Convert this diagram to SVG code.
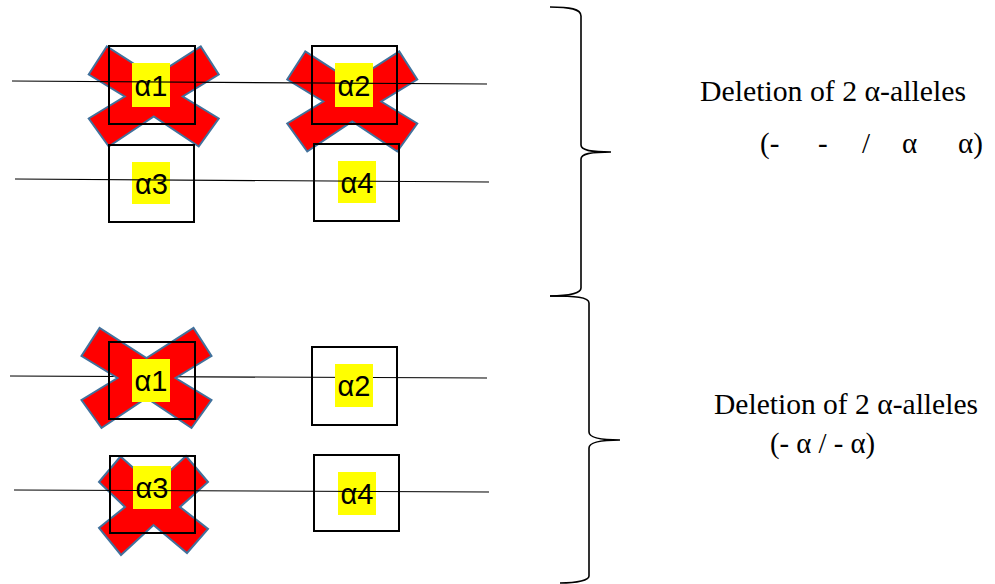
<svg xmlns="http://www.w3.org/2000/svg" width="995" height="584" viewBox="0 0 995 584">
<style>
.box{fill:none;stroke:#000;stroke-width:2}
.lbl{fill:#ffff00}
.lt{font-family:"Liberation Sans","DejaVu Sans",sans-serif;font-size:29px;fill:#000;text-anchor:middle}
.x{fill:#ff0000;stroke:#41719c;stroke-width:2;stroke-linejoin:miter}
.ln{stroke:#000;stroke-width:1.2;fill:none}
.br{stroke:#000;stroke-width:1.6;fill:none}
.t{font-family:"Liberation Serif","Times New Roman",serif;font-size:29px;fill:#000}
</style>
<defs>
<polygon id="cross" points="-47,-50 -65,-22 -29,0 -65,22 -45,50 0,20 45,50 65,22 29,0 65,-22 47,-50 0,-20"/>
</defs>
<rect width="995" height="584" fill="#fff"/>
<g id="connectors">
<line class="ln" x1="10" y1="376" x2="487" y2="378"/>
</g>
<g id="top-a1">
<use href="#cross" class="x" transform="translate(153.75,96.5)"/>
<rect class="box" x="109" y="46" width="86" height="78"/>
<rect class="lbl" x="132" y="63" width="38" height="44"/>
<text class="lt" x="151" y="96">α1</text>
</g>
<g id="top-a2">
<use href="#cross" class="x" transform="translate(352.25,101.5)"/>
<rect class="box" x="312" y="46" width="85" height="78"/>
<rect class="lbl" x="335" y="63" width="38" height="44"/>
<text class="lt" x="354" y="96">α2</text>
</g>
<g id="top-a3">
<rect class="box" x="109" y="145" width="85" height="77"/>
<rect class="lbl" x="132" y="162" width="38" height="42"/>
<text class="lt" x="151.5" y="194">α3</text>
</g>
<g id="top-a4">
<rect class="box" x="314" y="144" width="85" height="77"/>
<rect class="lbl" x="338" y="161" width="38" height="42"/>
<text class="lt" x="357" y="193">α4</text>
</g>
<g id="bottom-a1">
<use href="#cross" class="x" transform="translate(146.5,378)"/>
<rect class="box" x="109" y="342" width="86" height="77"/>
<rect class="lbl" x="132" y="359" width="38" height="43"/>
<text class="lt" x="151" y="391">α1</text>
</g>
<g id="bottom-a2">
<rect class="box" x="312" y="347" width="85" height="78"/>
<rect class="lbl" x="335" y="364" width="38" height="43"/>
<text class="lt" x="354" y="396">α2</text>
</g>
<g id="bottom-a3">
<polygon class="x" points="120.5,456.5 99,482 125,507 99,528 121,555 153.5,525 187,553 208,529 180,507 208,482 186,456 153.5,486"/>
<rect class="box" x="110" y="456" width="85" height="77"/>
<rect class="lbl" x="133" y="466" width="38" height="43"/>
<text class="lt" x="152" y="498">α3</text>
</g>
<g id="bottom-a4">
<rect class="box" x="314" y="455" width="85" height="76"/>
<rect class="lbl" x="338" y="472" width="38" height="43"/>
<text class="lt" x="357" y="504">α4</text>
</g>
<g id="chromosome-lines">
<line class="ln" x1="12" y1="81" x2="487" y2="84"/>
<line class="ln" x1="15" y1="179" x2="489" y2="182"/>
<line class="ln" x1="14" y1="490" x2="489" y2="492"/>
</g>
<g id="braces">
<path class="br" d="M550,7 C570,7 581,9 581,16 L581,145 C581,150 590,152 611,152 C590,152 581,154 581,159 L581,288 C581,293 570,296 550,296"/>
<path class="br" d="M550,296 C575,296 589,297 589,303 L589,432 C589,437 598,440 620,440 C598,440 589,443 589,448 L589,576 C589,580 578,583 560,583"/>
</g>
<g id="label-top">
<text class="t" x="700" y="101" textLength="266" lengthAdjust="spacingAndGlyphs">Deletion of 2 α-alleles</text>
<text class="t" y="153"><tspan x="760">(-</tspan><tspan x="818">-</tspan><tspan x="862">/</tspan><tspan x="902">α</tspan><tspan x="958">α)</tspan></text>
</g>
<g id="label-bottom">
<text class="t" x="714" y="414" textLength="264" lengthAdjust="spacingAndGlyphs">Deletion of 2 α-alleles</text>
<text class="t" x="770" y="453" textLength="105" lengthAdjust="spacingAndGlyphs">(- α / - α)</text>
</g>
</svg>
